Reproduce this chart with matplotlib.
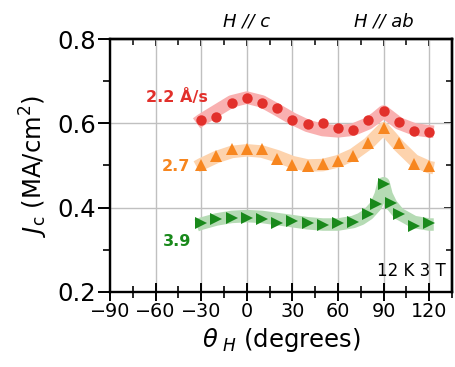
import matplotlib
matplotlib.use("Agg")
import matplotlib.pyplot as plt
from matplotlib.ticker import MultipleLocator

plt.rcParams['font.family'] = ['DejaVu Sans']
plt.rcParams['mathtext.fontset'] = 'dejavusans'

# Measured Jc vs field angle for three growth rates
angles = [-30, -20, -10, 0, 10, 20, 30, 40, 50, 60, 70, 80, 90, 100, 110, 120]
jc_22 = [0.609, 0.614, 0.649, 0.660, 0.649, 0.637, 0.609, 0.598, 0.601,
         0.590, 0.585, 0.609, 0.630, 0.603, 0.581, 0.579]
jc_27 = [0.500, 0.522, 0.538, 0.538, 0.538, 0.516, 0.500, 0.499, 0.504,
         0.510, 0.522, 0.553, 0.589, 0.553, 0.504, 0.499]
angles_39 = [-30, -20, -10, 0, 10, 20, 30, 40, 50, 60, 70, 80, 85, 90, 95,
             100, 110, 120]
jc_39 = [0.363, 0.374, 0.376, 0.376, 0.372, 0.363, 0.368, 0.363, 0.359,
         0.363, 0.366, 0.384, 0.408, 0.456, 0.412, 0.384, 0.356, 0.363]

# Guide-to-the-eye curves
fit_angles_22 = [-33, -30, -20, -10, 0, 10, 20, 30, 40, 50, 60, 70, 80, 85,
                 90, 95, 100, 110, 120, 123]
fit_22 = [0.600, 0.608, 0.630, 0.652, 0.661, 0.652, 0.632, 0.611, 0.594,
          0.584, 0.581, 0.585, 0.600, 0.613, 0.628, 0.614, 0.600, 0.586,
          0.581, 0.580]
fit_angles_27 = [-33, -30, -20, -10, 0, 10, 20, 30, 40, 50, 60, 70, 80, 85,
                 90, 95, 100, 110, 120, 123]
fit_27 = [0.497, 0.503, 0.520, 0.532, 0.536, 0.533, 0.522, 0.508, 0.500,
          0.501, 0.510, 0.526, 0.552, 0.570, 0.588, 0.568, 0.547, 0.512,
          0.496, 0.494]
fit_angles_39 = [-33, -30, -20, -10, 0, 10, 20, 30, 40, 50, 60, 70, 75, 80,
                 85, 88, 90, 92, 95, 100, 110, 120, 123]
fit_39 = [0.358, 0.362, 0.372, 0.378, 0.380, 0.378, 0.373, 0.368, 0.363,
          0.360, 0.360, 0.366, 0.373, 0.385, 0.405, 0.430, 0.458, 0.430,
          0.408, 0.386, 0.366, 0.360, 0.360]

x_ticks = [-90, -60, -30, 0, 30, 60, 90, 120]
y_ticks = [0.2, 0.4, 0.6, 0.8]

red, orange, green = '#e2302b', '#f7861f', '#19891b'
red_l, orange_l, green_l = '#f9b0b0', '#fdd3ad', '#b5dbb4'

fig = plt.figure(figsize=(4.55, 3.67), dpi=100)
ax = fig.add_axes([0.2418, 0.2044, 0.7516, 0.6893])

band_kw = dict(lw=9, solid_capstyle='butt', solid_joinstyle='round', zorder=2)
ax.plot(fit_angles_22, fit_22, color=red_l, **band_kw)
ax.plot(fit_angles_27, fit_27, color=orange_l, **band_kw)
ax.plot(fit_angles_39, fit_39, color=green_l, **band_kw)

ax.plot(angles, jc_22, 'o', color=red, ms=7.5, mew=0, zorder=3)
ax.plot(angles, jc_27, '^', color=orange, ms=8.5, mew=0, zorder=3)
ax.plot(angles_39, jc_39, '>', color=green, ms=8.5, mew=0, zorder=3)

ax.set_xlim(-90, 135)
ax.set_ylim(0.2, 0.8)
ax.set_xticks(x_ticks)
ax.set_yticks(y_ticks)
ax.xaxis.set_minor_locator(MultipleLocator(15))
ax.yaxis.set_minor_locator(MultipleLocator(0.1))
ax.set_xticklabels([f'{t}'.replace('-', '\u2212') for t in x_ticks])
ax.set_yticklabels([f'{t:.1f}' for t in y_ticks])

ax.grid(True, which='major', color='#c0c0c0', lw=1.0, zorder=0)
for s in ax.spines.values():
    s.set_linewidth(1.7)

ax.tick_params(axis='x', which='major', direction='inout', length=13, width=1.4,
               labelsize=13.8, pad=1)
ax.tick_params(axis='x', which='minor', direction='inout', length=8, width=1.2)
ax.tick_params(axis='y', which='major', direction='out', length=9, width=1.4,
               labelsize=17.5, pad=1)
ax.tick_params(axis='y', which='minor', direction='out', length=5, width=1.2)

# inward ticks on the top and right edges
top = ax.secondary_xaxis('top')
top.set_xticks(x_ticks)
top.xaxis.set_minor_locator(MultipleLocator(15))
top.tick_params(which='major', direction='in', length=5, width=1.3, labeltop=False)
top.tick_params(which='minor', direction='in', length=4, width=1.1)
top.spines['top'].set_linewidth(1.7)
right = ax.secondary_yaxis('right')
right.set_yticks(y_ticks)
right.yaxis.set_minor_locator(MultipleLocator(0.1))
right.tick_params(which='major', direction='in', length=6, width=1.3, labelright=False)
right.tick_params(which='minor', direction='in', length=4, width=1.1)
right.spines['right'].set_linewidth(1.7)

ax.set_xlabel(r'$\theta_{\ H}$ (degrees)', fontsize=17.5, labelpad=3)
ax.set_ylabel(r'$J_{\rm c}$ (MA/cm$^2$)', fontsize=17.5, labelpad=5)

ax.text(-25.5, 0.662, '2.2 Å/s', color=red, fontsize=11.5, fontweight='bold',
        ha='right', va='center')
ax.text(-37.5, 0.497, '2.7', color=orange, fontsize=11.5, fontweight='bold',
        ha='right', va='center')
ax.text(-36.5, 0.320, '3.9', color=green, fontsize=11.5, fontweight='bold',
        ha='right', va='center')
ax.text(0, 0.8426, 'H // c', fontsize=13, style='italic', ha='center', va='center')
ax.text(90, 0.8426, 'H // ab', fontsize=13, style='italic', ha='center', va='center')
ax.text(131, 0.249, '12 K 3 T', fontsize=12, ha='right', va='center')

fig.savefig('out.png', dpi=100)
